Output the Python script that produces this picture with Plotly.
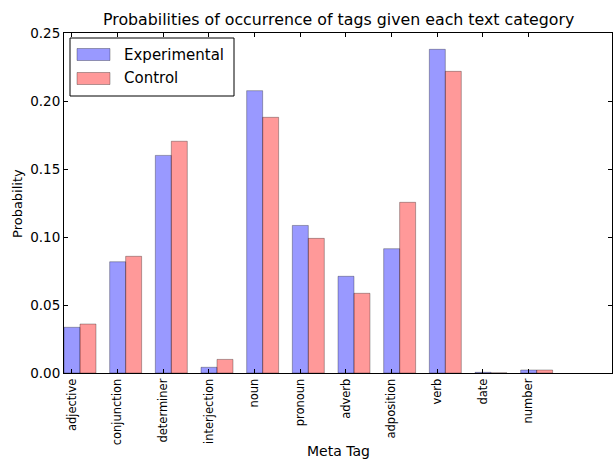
import plotly.graph_objects as go

# Tag categories and per-category probabilities
tags = ["adjective", "conjunction", "determiner", "interjection", "noun",
        "pronoun", "adverb", "adposition", "verb", "date", "number"]
experimental = [0.0336, 0.0818, 0.1600, 0.0042, 0.2076, 0.1085, 0.0711,
                0.0914, 0.2380, 0.0005, 0.0022]
control = [0.0360, 0.0858, 0.1704, 0.0100, 0.1880, 0.0990, 0.0586,
           0.1255, 0.2218, 0.0001, 0.0022]

bar_w = 0.35
idx = list(range(len(tags)))
x_exp = [i + bar_w / 2 for i in idx]
x_ctl = [i + bar_w * 1.5 for i in idx]

FONT = "DejaVu Sans"
edge = dict(color="rgba(0,0,0,0.3)", width=1)

fig = go.Figure()
fig.add_trace(go.Bar(x=x_exp, y=experimental, width=bar_w, name="Experimental",
                     marker=dict(color="rgba(0,0,255,0.4)", line=edge)))
fig.add_trace(go.Bar(x=x_ctl, y=control, width=bar_w, name="Control",
                     marker=dict(color="rgba(255,0,0,0.4)", line=edge)))

fig.update_layout(
    width=613, height=459,
    margin=dict(l=64, r=1, t=33, b=86),
    plot_bgcolor="white", paper_bgcolor="white",
    barmode="overlay", showlegend=False,
    font=dict(family=FONT, color="black", size=13),
)
fig.update_xaxes(
    range=[0, 12], tickmode="array", tickvals=x_exp, ticktext=tags,
    tickangle=-90, tickfont=dict(size=11.5),
    ticks="inside", ticklen=4, tickcolor="black",
    showline=True, linecolor="black", linewidth=1, mirror="ticks",
    showgrid=False, zeroline=False,
)
fig.update_yaxes(
    range=[0, 0.25], dtick=0.05, tickformat=".2f", tickfont=dict(size=13.5),
    ticks="inside", ticklen=4, tickcolor="black",
    showline=True, linecolor="black", linewidth=1, mirror="ticks",
    showgrid=False, zeroline=False,
)

# Axis titles and chart title
fig.add_annotation(text="Probabilities of occurrence of tags given each text category",
                   xref="paper", yref="paper", x=0.5, y=1.0, yshift=14,
                   showarrow=False, font=dict(size=15.8), yanchor="middle")
fig.add_annotation(text="Meta Tag", xref="paper", yref="paper", x=0.5, y=-0.229,
                   showarrow=False, font=dict(size=14), yanchor="middle")
fig.add_annotation(text="Probability", xref="paper", yref="paper", x=-0.0858, y=0.5,
                   textangle=-90, showarrow=False, font=dict(size=13), xanchor="center")

# Boxed legend in the upper-left corner
def px_x(p):
    return (p - 64) / 548

def px_y(p):
    return (373 - p) / 340

fig.add_shape(type="rect", xref="paper", yref="paper",
              x0=px_x(70), x1=px_x(234), y0=px_y(96), y1=px_y(38),
              line=dict(color="black", width=1), fillcolor="white", layer="above")
legend_rows = [("Experimental", "rgba(0,0,255,0.4)", 54.5),
               ("Control", "rgba(255,0,0,0.4)", 78.5)]
for label, color, cy in legend_rows:
    fig.add_shape(type="rect", xref="paper", yref="paper",
                  x0=px_x(77), x1=px_x(110), y0=px_y(cy + 6), y1=px_y(cy - 6),
                  line=dict(color="rgba(0,0,0,0.3)", width=1), fillcolor=color,
                  layer="above")
    fig.add_annotation(text=label, xref="paper", yref="paper", x=px_x(122), y=px_y(cy),
                       xanchor="left", yanchor="middle", showarrow=False,
                       font=dict(size=15))

fig.write_html("out.html")
